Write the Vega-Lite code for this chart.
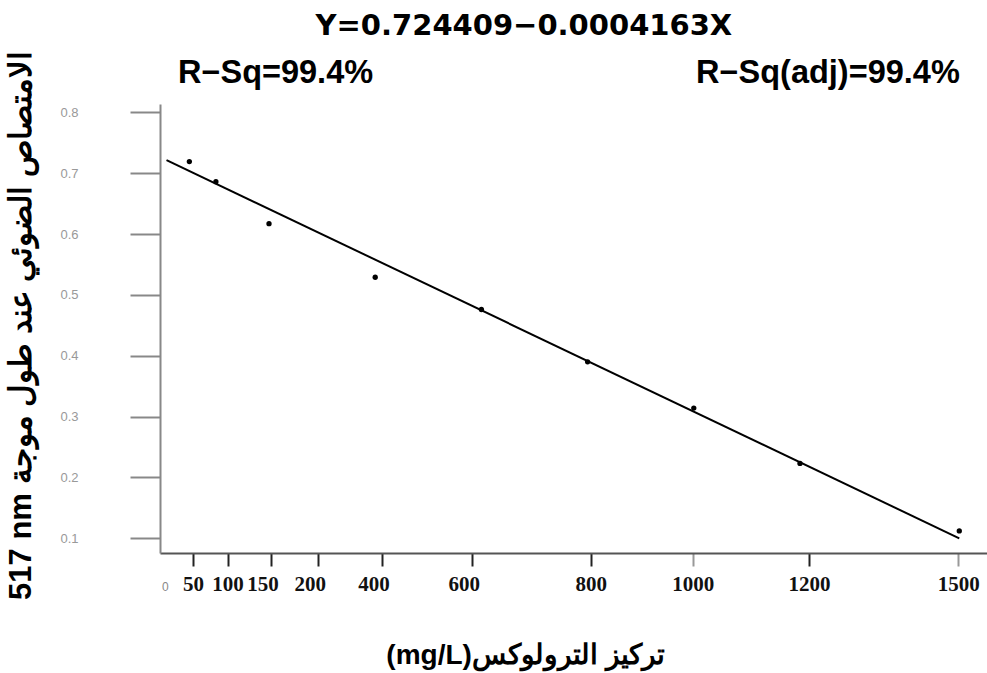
{
  "$schema": "https://vega.github.io/schema/vega-lite/v6.json",
  "width": 827,
  "height": 449,
  "autosize": {"type": "none"},
  "padding": {"left": 160, "top": 104, "right": 0, "bottom": 120},
  "background": "white",
  "config": {"view": {"stroke": null}},
  "datasets": {
    "points": [
      {"conc": 50, "abs": 0.719},
      {"conc": 100, "abs": 0.686},
      {"conc": 200, "abs": 0.617},
      {"conc": 400, "abs": 0.529},
      {"conc": 600, "abs": 0.476},
      {"conc": 800, "abs": 0.390},
      {"conc": 1000, "abs": 0.314},
      {"conc": 1200, "abs": 0.223},
      {"conc": 1500, "abs": 0.112}
    ],
    "fit": [
      {"conc": 7, "abs": 0.7215},
      {"conc": 1500, "abs": 0.0999}
    ]
  },
  "layer": [
    {
      "data": {"name": "fit"},
      "mark": {"type": "line", "color": "black", "strokeWidth": 2},
      "encoding": {
        "x": {
          "field": "conc", "type": "quantitative",
          "scale": {"domain": [-5.3, 1552.2], "nice": false, "zero": false},
          "axis": {
            "values": [4, 57, 122, 203, 292, 412, 582, 806, 998, 1217, 1498],
            "labelExpr": "datum.value < 20 ? '0' : datum.value < 100 ? '50' : datum.value < 150 ? '100' : datum.value < 250 ? '150' : datum.value < 350 ? '200' : datum.value < 500 ? '400' : datum.value < 700 ? '600' : datum.value < 900 ? '800' : datum.value < 1100 ? '1000' : datum.value < 1300 ? '1200' : '1500'",
            "grid": false,
            "domainColor": "#555",
            "domainWidth": 2,
            "tickSize": 13,
            "tickWidth": 2,
            "tickColor": {"condition": {"test": "(datum.value > 900 && datum.value < 1100) || datum.value > 1400", "value": "#999"}, "value": "#222"},
            "tickOpacity": {"condition": {"test": "datum.value < 20", "value": 0}, "value": 1},
            "labelFont": {"condition": {"test": "datum.value < 20", "value": "Liberation Sans"}, "value": "Liberation Serif"},
            "labelFontWeight": {"condition": {"test": "datum.value < 20", "value": "normal"}, "value": "bold"},
            "labelFontSize": {"condition": {"test": "datum.value < 20", "value": 12}, "value": 21},
            "labelColor": {"condition": {"test": "datum.value < 20", "value": "#888"}, "value": "#111"},
            "labelOffset": {"condition": {"test": "datum.value > 150 && datum.value < 700", "value": -8}, "value": 0},
            "labelPadding": 24,
            "labelBaseline": "alphabetic",
            "labelOverlap": false,
            "labelFlush": false,
            "title": "\u202Bتركيز الترولوكس(mg/L)\u202C",
            "titleFont": "Liberation Sans",
            "titleFontSize": 28,
            "titleFontWeight": "bold",
            "titleColor": "black",
            "titleX": 365,
            "titleY": 102,
            "titleBaseline": "middle",
            "titleAlign": "center"
          }
        },
        "y": {
          "field": "abs", "type": "quantitative",
          "scale": {"domain": [0.0758, 0.8137], "nice": false, "zero": false},
          "axis": {
            "values": [0.1, 0.2, 0.3, 0.4, 0.5, 0.6, 0.7, 0.8],
            "format": ".1f",
            "grid": false,
            "domainColor": "#888",
            "domainWidth": 2,
            "tickColor": "#888",
            "tickWidth": 2,
            "tickSize": 30,
            "labelFont": "Liberation Sans",
            "labelFontSize": 13,
            "labelColor": "#999",
            "labelPadding": 52,
            "title": "\u202Bالامتصاص الضوئي عند طول موجة \u202A517 nm\u202C\u202C",
            "titleFont": "Liberation Sans",
            "titleFontSize": 31,
            "titleFontWeight": "bold",
            "titleColor": "black",
            "titleAngle": -90,
            "titleX": -139,
            "titleY": 221,
            "titleBaseline": "middle",
            "titleAlign": "center"
          }
        }
      }
    },
    {
      "data": {"name": "points"},
      "mark": {"type": "circle", "color": "black", "opacity": 1, "size": 28},
      "encoding": {
        "x": {"field": "conc", "type": "quantitative"},
        "y": {"field": "abs", "type": "quantitative"}
      }
    },
    {
      "data": {"values": [{"t": "Y=0.724409−0.0004163X"}]},
      "mark": {"type": "text", "font": "DejaVu Sans", "fontWeight": "bold", "fontSize": 29, "align": "center", "baseline": "alphabetic", "color": "black"},
      "encoding": {
        "x": {"datum": 680},
        "y": {"datum": 0.927},
        "text": {"field": "t"}
      }
    },
    {
      "data": {"values": [{"t": "R−Sq=99.4%"}]},
      "mark": {"type": "text", "font": "Liberation Sans", "fontWeight": "bold", "fontSize": 32.5, "align": "left", "baseline": "alphabetic", "color": "black"},
      "encoding": {
        "x": {"datum": 28.6},
        "y": {"datum": 0.848},
        "text": {"field": "t"}
      }
    },
    {
      "data": {"values": [{"t": "R−Sq(adj)=99.4%"}]},
      "mark": {"type": "text", "font": "Liberation Sans", "fontWeight": "bold", "fontSize": 32.5, "align": "right", "baseline": "alphabetic", "color": "black"},
      "encoding": {
        "x": {"datum": 1501},
        "y": {"datum": 0.848},
        "text": {"field": "t"}
      }
    }
  ]
}
